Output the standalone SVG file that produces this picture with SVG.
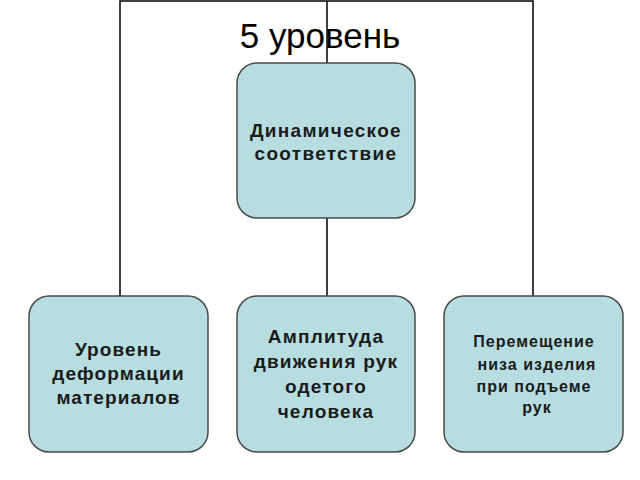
<svg xmlns="http://www.w3.org/2000/svg" width="640" height="480" viewBox="0 0 640 480">
<style>
.box{fill:#b7dde1;stroke:#4a4a4a;stroke-width:1.5}
.lbl{font-family:"Liberation Sans",Arial,sans-serif;font-weight:bold;fill:#1a1a1a;text-anchor:middle}
.con{stroke:#000;stroke-width:1.5;fill:none}
</style>
<rect width="640" height="480" fill="#fff"/>
<g id="connectors">
<path class="con" d="M120,296 V1 H533 V296"/>
<path class="con" d="M327,1 V63"/>
<path class="con" d="M327,218 V296"/>
</g>
<text x="320" y="48" font-family="'Liberation Sans',Arial,sans-serif" font-size="35" fill="#000" text-anchor="middle">5 уровень</text>
<g id="n_top">
<rect class="box" x="237" y="63" width="178" height="155" rx="20"/>
<text class="lbl" font-size="19" letter-spacing="1.3"><tspan x="326" y="137">Динамическое</tspan><tspan x="326" y="160">соответствие</tspan></text>
</g>
<g id="n_left">
<rect class="box" x="29" y="296" width="179" height="156" rx="20"/>
<text class="lbl" font-size="19" letter-spacing="1.1"><tspan x="118.5" y="356">Уровень</tspan><tspan x="118.5" y="380">деформации</tspan><tspan x="118.5" y="404">материалов</tspan></text>
</g>
<g id="n_mid">
<rect class="box" x="237" y="296" width="178" height="156" rx="20"/>
<text class="lbl" font-size="19" letter-spacing="1.2"><tspan x="326" y="343">Амплитуда</tspan><tspan x="326" y="368">движения рук</tspan><tspan x="326" y="393">одетого</tspan><tspan x="326" y="418">человека</tspan></text>
</g>
<g id="n_right">
<rect class="box" x="444" y="296" width="179" height="156" rx="20"/>
<text class="lbl" font-size="16" letter-spacing="1"><tspan x="534" y="347">Перемещение</tspan><tspan x="537" y="370">низа изделия</tspan><tspan x="534" y="392">при подъеме</tspan><tspan x="537" y="413">рук</tspan></text>
</g>
</svg>
